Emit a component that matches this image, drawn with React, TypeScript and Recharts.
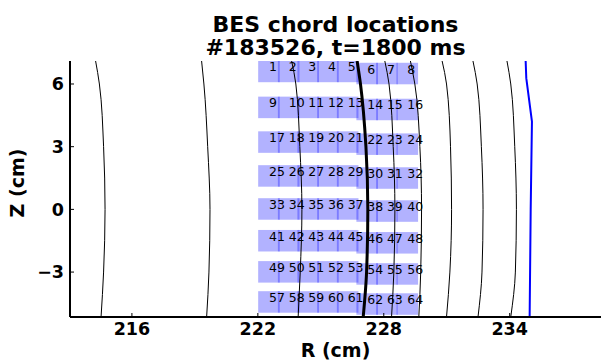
import React from "react"
import { ComposedChart, Line, Scatter, XAxis, YAxis, ReferenceArea, Label } from "recharts"

// flux surfaces: R (cm) of each contour at these heights Z (cm)
const contourZ = [7.1, 6, 3, 0, -3, -5.15]
const surface1 = [214.27, 214.45, 214.65, 214.72, 214.65, 214.53]
const surface2 = [219.32, 219.43, 219.61, 219.72, 219.67, 219.56]
const surface3 = [223.61, 223.81, 224.0, 224.1, 224.02, 223.92]
const separatrix = [226.73, 226.89, 227.15, 227.24, 227.18, 227.02]
const surface4 = [228.05, 228.25, 228.45, 228.53, 228.48, 228.37]
const surface5 = [229.27, 229.48, 229.72, 229.8, 229.76, 229.67]
const surface6 = [230.78, 230.99, 231.18, 231.23, 231.15, 230.99]
const surface7 = [232.25, 232.45, 232.65, 232.73, 232.68, 232.49]
const surface8 = [233.87, 234.05, 234.24, 234.32, 234.27, 234.05]

// limiter / wall trace
const wallR = [234.76, 234.79, 235.06, 235.0, 234.95]
const wallZ = [7.1, 6.28, 4.2, 0, -5.15]

// BES chord centres: 8 radial columns x 8 vertical rows
const chordR = [222.53, 223.47, 224.4, 225.34, 226.28, 227.21, 228.15, 229.12]
const chordZ = [6.6, 4.88, 3.22, 1.6, 0.02, -1.5, -2.99, -4.43]
const chordDz = [0, 0, 0, 0, 0, -0.1, -0.1, -0.1]

const xTicks = [216, 222, 228, 234]
const yTicks = [-3, 0, 3, 6]

const R_DOMAIN: [number, number] = [213.05, 238.35]
const Z_DOMAIN: [number, number] = [-5.15, 7.1]
const SPOT = 1.03
const FONT = "'DejaVu Sans', sans-serif"

const toPoints = (rs: number[], zs: number[]) => rs.map((r, i) => ({ r, z: zs[i] }))

const thinSurfaces = [surface1, surface2, surface3, surface4, surface5, surface6, surface7, surface8]

const channels = chordZ.flatMap((z, row) =>
  chordR.map((r, col) => ({ n: row * 8 + col + 1, r, z: z + chordDz[col] }))
)

const fmtZ = (v: number) => (v < 0 ? `\u2212${-v}` : `${v}`)

const BottomTick = ({ x, y, payload }: any) => (
  <g>
    <line x1={x} x2={x} y1={y} y2={y - 4} stroke="#000" strokeWidth={1} />
    <text x={x} y={y + 18} textAnchor="middle" fontFamily={FONT} fontWeight={700} fontSize={17.5} fill="#000">
      {payload.value}
    </text>
  </g>
)

const TopTick = ({ x, y }: any) => <line x1={x} x2={x} y1={y} y2={y + 4} stroke="#000" strokeWidth={1} />

const LeftTick = ({ x, y, payload }: any) => (
  <g>
    <line x1={x} x2={x + 4} y1={y} y2={y} stroke="#000" strokeWidth={1} />
    <text x={x - 6} y={y} dy="0.36em" textAnchor="end" fontFamily={FONT} fontWeight={700} fontSize={17.5} fill="#000">
      {fmtZ(payload.value)}
    </text>
  </g>
)

const ChannelLabel = ({ cx, cy, payload }: any) => (
  <text x={cx} y={cy} fontFamily={FONT} fontSize={12.5} fill="#000">
    {payload.n}
  </text>
)

export default function App() {
  return (
    <div style={{ width: 601, height: 364, position: "relative", background: "#fff" }}>
      <style>{"body { margin: 0; }"}</style>
      <div
        style={{
          position: "absolute", left: 70, top: 13, width: 531, textAlign: "center",
          fontFamily: FONT, fontWeight: 700, fontSize: 22, lineHeight: "23px", color: "#000",
        }}
      >
        <div>BES chord locations</div>
        <div>#183526, t=1800 ms</div>
      </div>
      <ComposedChart width={601} height={364} margin={{ top: 61, right: 0, bottom: 0, left: 0 }}>
        <XAxis
          dataKey="r" type="number" domain={R_DOMAIN} allowDataOverflow ticks={xTicks} height={47}
          axisLine={{ stroke: "#000", strokeWidth: 2 }} tickLine={false} tickSize={0} tickMargin={0}
          tick={<BottomTick />} interval={0}
        >
          <Label value="R (cm)" position="insideBottom" offset={7} fontFamily={FONT} fontWeight={700} fontSize={19} fill="#000" />
        </XAxis>
        <XAxis
          xAxisId="top" orientation="top" type="number" domain={R_DOMAIN} allowDataOverflow ticks={xTicks} height={0}
          axisLine={{ stroke: "#000", strokeWidth: 2 }} tickLine={false} tickSize={0} tickMargin={0}
          tick={<TopTick />} interval={0}
        />
        <YAxis
          dataKey="z" type="number" domain={Z_DOMAIN} allowDataOverflow ticks={yTicks} width={70}
          axisLine={{ stroke: "#000", strokeWidth: 2 }} tickLine={false} tickSize={0} tickMargin={0}
          tick={<LeftTick />} interval={0}
        >
          <Label
            value="Z (cm)" angle={-90} position="insideLeft" offset={17} dy={-6}
            fontFamily={FONT} fontWeight={700} fontSize={19} fill="#000" style={{ textAnchor: "middle" }}
          />
        </YAxis>

        {channels.map(c => (
          <ReferenceArea
            key={c.n} x1={c.r - SPOT / 2} x2={c.r + SPOT / 2} y1={c.z - SPOT / 2} y2={c.z + SPOT / 2}
            fill="#0000ff" fillOpacity={0.3} stroke="none" ifOverflow="hidden"
          />
        ))}

        {thinSurfaces.map((s, i) => (
          <Line
            key={i} data={toPoints(s, contourZ)} dataKey="z" type="monotoneY" stroke="#000" strokeWidth={1}
            dot={false} activeDot={false} isAnimationActive={false}
          />
        ))}
        <Line
          data={toPoints(separatrix, contourZ)} dataKey="z" type="monotoneY" stroke="#000" strokeWidth={3}
          dot={false} activeDot={false} isAnimationActive={false}
        />
        <Line
          data={toPoints(wallR, wallZ)} dataKey="z" type="linear" stroke="#0000ff" strokeWidth={2}
          dot={false} activeDot={false} isAnimationActive={false}
        />

        <Scatter data={channels} dataKey="z" shape={<ChannelLabel />} isAnimationActive={false} />
      </ComposedChart>
    </div>
  )
}
